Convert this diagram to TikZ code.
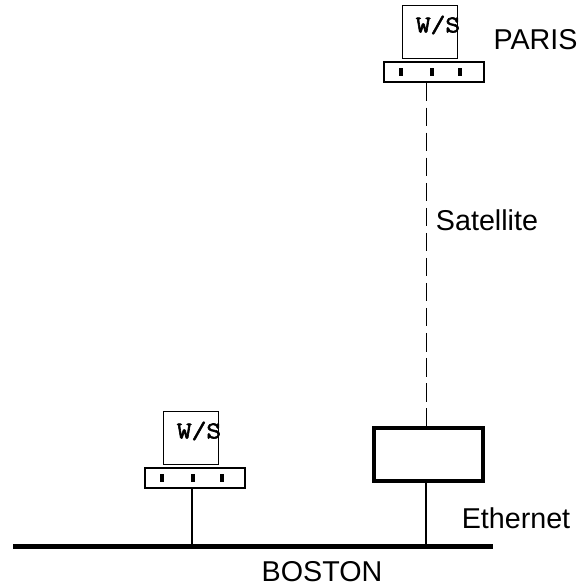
\documentclass[tikz,border=0pt]{standalone}
\usepackage{fontspec}
\setmainfont{Liberation Sans}
\newfontfamily\wsfont[FakeBold=2.5,FakeStretch=1.2]{Latin Modern Mono}
\usetikzlibrary{positioning}

\begin{document}
\begin{tikzpicture}[x=0.025cm, y=-0.025cm,
  screen/.style={draw, line width=0.9pt, fill=white, minimum width=1.38cm, minimum height=1.34cm, inner sep=0pt},
  base/.style={draw, line width=0.9pt, fill=white, minimum width=2.5cm, minimum height=0.5cm, inner sep=0pt},
  tick/.style={fill=black, minimum width=0.11cm, minimum height=0.2cm, inner sep=0pt},
  router/.style={draw, line width=3.1pt, fill=white, minimum width=2.72cm, minimum height=1.33cm, inner sep=0pt},
  bus/.style={line width=3.1pt},
  wire/.style={line width=0.9pt},
  satlink/.style={line width=0.7pt, dash pattern=on 13.2pt off 4.6pt},
  ws/.style={font=\wsfont\fontsize{17pt}{18pt}\selectfont, inner sep=0pt},
  label/.style={font=\fontsize{20.4pt}{22pt}\selectfont, inner sep=0pt}
]
  \useasboundingbox (0,0) rectangle (577,585);

  \node[screen] (parisscreen) at (430,32)  {};
  \node[ws]     (parisws)     at (438,25)  {W/S};
  \node[base]   (parisbase)   at (434,72)  {};
  \node[tick]   (parist1)     at (401,72)  {};
  \node[tick]   (parist2)     at (432,72)  {};
  \node[tick]   (parist3)     at (460,72)  {};

  \node[screen] (bostonscreen) at (191,438) {};
  \node[ws]     (bostonws)     at (199,431) {W/S};
  \node[base]   (bostonbase)   at (195,478) {};
  \node[tick]   (bostont1)     at (162,478) {};
  \node[tick]   (bostont2)     at (193,478) {};
  \node[tick]   (bostont3)     at (222,478) {};

  \node[router] (gateway) at (428.5,454.5) {};

  \coordinate (busleft)  at (13,546.5);
  \coordinate (busright) at (493,546.5);
  \coordinate (tapa) at (192,546.5);
  \coordinate (tapb) at (426,546.5);

  \draw[bus] (busleft) -- (busright);
  \draw[wire] (bostonbase.south -| tapa) -- (tapa);
  \draw[wire] (gateway.south -| tapb) -- (tapb);
  \draw[satlink] (parisbase.south -| tapb) -- (gateway.north -| tapb);

  \node[label] (paris)     at (535.5,40) {PARIS};
  \node[label] (satellite) at (487,220) {Satellite};
  \node[label] (ethernet)  at (516,518) {Ethernet};
  \node[label] (boston)    at (322,572) {BOSTON};
\end{tikzpicture}
\end{document}
